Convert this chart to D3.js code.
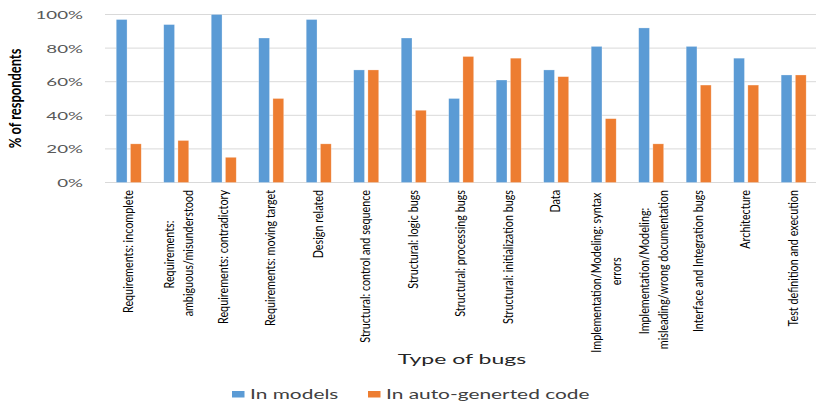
<!DOCTYPE html>
<html>
<head>
<meta charset="utf-8">
<script src="https://cdn.jsdelivr.net/npm/d3@7"></script>
<style>
  html, body { margin: 0; padding: 0; background: #fff; }
  svg { display: block; }
  text { font-family: Lato, "Open Sans", sans-serif; }
</style>
</head>
<body>
<svg id="chart" width="816" height="402"></svg>
<script>
// Bug categories ("\n" marks a wrapped label line)
const categories = [
  "Requirements: incomplete",
  "Requirements:\nambiguous/misunderstood",
  "Requirements: contradictory",
  "Requirements: moving target",
  "Design related",
  "Structural: control and sequence",
  "Structural: logic bugs",
  "Structural: processing bugs",
  "Structural: initialization bugs",
  "Data",
  "Implementation/Modeling: syntax\nerrors",
  "Implementation/Modeling:\nmisleading/wrong documentation",
  "Interface and Integration bugs",
  "Architecture",
  "Test definition and execution"
];
// % of respondents per category
const inModels   = [97, 94, 100, 86, 97, 67, 86, 50, 61, 67, 81, 92, 81, 74, 64];
const inAutoCode = [23, 25, 15, 50, 23, 67, 43, 75, 74, 63, 38, 23, 58, 58, 64];
const seriesNames = ["In models", "In auto-generted code"];
const seriesColors = ["#5b9bd5", "#ed7d31"];
const yTicks = [0, 20, 40, 60, 80, 100];
const yTitle = "% of respondents";
const xTitle = "Type of bugs";

const svg = d3.select("#chart");
const plot = { left: 105, right: 817.4, top: 14.5, bottom: 182.5 };

const x0 = d3.scaleBand()
  .domain(categories)
  .range([plot.left, plot.right])
  .paddingInner(0.4736)
  .paddingOuter(0.2368);
const x1 = d3.scaleBand()
  .domain(seriesNames)
  .range([0, x0.bandwidth()])
  .paddingInner(0.24);
const y = d3.scaleLinear().domain([0, 100]).range([plot.bottom, plot.top]);

// Stretch a text element to a multiple of its natural advance width
function stretch(sel, factor) {
  sel.each(function () {
    const w = this.getComputedTextLength();
    d3.select(this)
      .attr("textLength", w * factor)
      .attr("lengthAdjust", "spacingAndGlyphs");
  });
}

// Gridlines
svg.append("g")
  .selectAll("line")
  .data(yTicks)
  .join("line")
  .attr("x1", plot.left).attr("x2", plot.right)
  .attr("y1", d => y(d)).attr("y2", d => y(d))
  .attr("stroke", "#d9d9d9").attr("stroke-width", 1);

// Y tick labels
const yAxis = d3.axisLeft(y).tickValues(yTicks).tickFormat(d => d + "%").tickSize(0).tickPadding(0);
const gy = svg.append("g").attr("transform", `translate(${83},0)`).call(yAxis);
gy.select(".domain").remove();
gy.selectAll("text")
  .attr("fill", "#595959")
  .style("font-size", "11px")
  .style("font-family", "Lato, sans-serif")
  .attr("dy", "0.36em")
  .call(stretch, 1.7);

// Bars
const rows = categories.map((c, i) => ({ cat: c, values: [inModels[i], inAutoCode[i]] }));
const groups = svg.append("g")
  .selectAll("g")
  .data(rows)
  .join("g")
  .attr("transform", d => `translate(${x0(d.cat)},0)`);
groups.selectAll("rect")
  .data(d => d.values.map((v, k) => ({ key: seriesNames[k], v, k })))
  .join("rect")
  .attr("x", d => x1(d.key))
  .attr("width", x1.bandwidth())
  .attr("y", d => y(d.v))
  .attr("height", d => y(0) - y(d.v))
  .attr("fill", d => seriesColors[d.k])
  .attr("stroke", "#ffffff").attr("stroke-opacity", 0.45).attr("stroke-width", 0.6);

// Category labels, rotated and condensed, top-aligned under the axis
const labelTop = 190, lineGap = 19.5, labelSize = 14, labelFactor = 0.77, wrapShift = 3;
const labelG = svg.append("g");
rows.forEach(d => {
  const lines = d.cat.split("\n").map((s, i, a) => i < a.length - 1 ? s + "\u00A0" : s);
  const n = lines.length;
  const cx = x0(d.cat) + x0.bandwidth() / 2 + (n > 1 ? wrapShift : 0);
  const texts = lines.map((line, i) => {
    const t = labelG.append("text")
      .text(line)
      .style("font-size", labelSize + "px")
      .attr("fill", "#000")
      .attr("text-anchor", "middle");
    const w = t.node().getComputedTextLength() * labelFactor;
    t.attr("textLength", w).attr("lengthAdjust", "spacingAndGlyphs");
    return { t, w, i };
  });
  const maxW = d3.max(texts, o => o.w);
  texts.forEach(o => {
    const off = (o.i - (n - 1) / 2) * lineGap;
    o.t.attr("transform", `translate(${cx + off},${labelTop + maxW / 2}) rotate(-90)`)
      .attr("dy", "0.3em");
  });
});

// Y axis title
svg.append("text")
  .text(yTitle)
  .attr("transform", `translate(16,98.5) rotate(-90)`)
  .attr("text-anchor", "middle")
  .attr("dy", "0.3em")
  .style("font-size", "17px")
  .style("font-weight", "bold")
  .attr("fill", "#000")
  .call(stretch, 0.76);

// X axis title
svg.append("text")
  .text(xTitle)
  .attr("x", 462).attr("y", 364)
  .attr("text-anchor", "middle")
  .style("font-size", "13px")
  .attr("fill", "#262626")
  .call(stretch, 1.77);

// Legend
const legendX = [232, 368];
const legend = svg.append("g");
seriesNames.forEach((name, k) => {
  legend.append("rect")
    .attr("x", legendX[k]).attr("y", 391)
    .attr("width", 12.5).attr("height", 6.5)
    .attr("fill", seriesColors[k]);
  legend.append("text")
    .text(name)
    .attr("x", legendX[k] + 18).attr("y", 399)
    .style("font-size", "12.5px")
    .attr("fill", "#404040")
    .call(stretch, 1.67);
});
</script>
</body>
</html>
